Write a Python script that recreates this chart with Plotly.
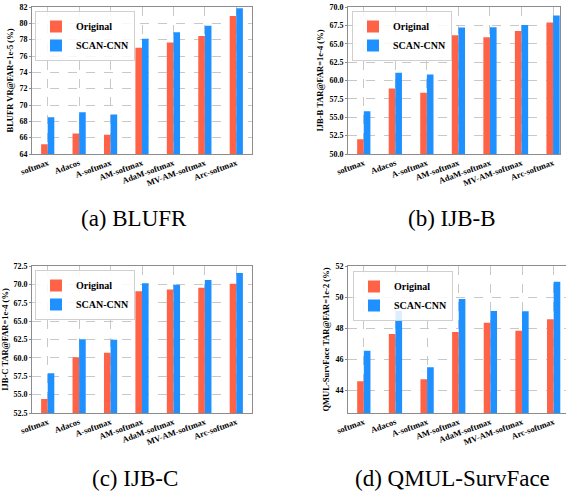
import plotly.graph_objects as go

categories = ["softmax", "Adacos", "A-softmax", "AM-softmax", "AdaM-softmax", "MV-AM-softmax", "Arc-softmax"]

blufr_original = [65.2, 66.5, 66.35, 77.0, 77.65, 78.45, 80.9]
blufr_scan = [68.5, 69.1, 68.85, 78.1, 78.9, 79.7, 81.85]

ijbb_original = [52.0, 58.9, 58.35, 66.15, 65.9, 66.75, 67.9]
ijbb_scan = [55.8, 61.05, 60.8, 67.2, 67.25, 67.55, 68.85]

ijbc_original = [54.4, 60.1, 60.7, 69.05, 69.3, 69.55, 70.1]
ijbc_scan = [57.9, 62.55, 62.45, 70.15, 69.95, 70.6, 71.55]

qmul_original = [44.58, 47.63, 44.71, 47.76, 48.34, 47.83, 48.58]
qmul_scan = [46.54, 49.1, 45.48, 49.87, 49.1, 49.08, 50.99]

titles = ["BLUFR VR@FAR=1e-5 (%)", "IJB-B TAR@FAR=1e-4 (%)",
          "IJB-C TAR@FAR=1e-4 (%)", "QMUL-SurvFace TAR@FAR=1e-2 (%)"]
captions = ["(a) BLUFR", "(b) IJB-B", "(c) IJB-C", "(d) QMUL-SurvFace"]
series = [(blufr_original, blufr_scan), (ijbb_original, ijbb_scan),
          (ijbc_original, ijbc_scan), (qmul_original, qmul_scan)]

W, H = 566, 492
FONT = "Liberation Serif"
RED = "#FF6347"
BLUE = "#1E90FF"

# pixel layout: (left, right, top, bottom)
boxes = [(32, 252, 7, 154), (348, 560, 7, 154), (32, 252, 266, 413), (348, 566, 266, 413)]
yranges = [[64, 82], [50, 70], [52.5, 72.5], [42.54, 52]]
ydtick = [2, 2.5, 2.5, 2]
yfmt = ["d", ".1f", ".1f", "d"]
xranges = [[-0.5, 6.5], [-0.5, 6.22], [-0.5, 6.5], [-0.5, 6.39]]
legpos = [(35, 11), (352, 11), (35, 270), (353, 271)]
capos = [(134, 219), (452, 219), (135, 478), (452, 478)]

fig = go.Figure()
layout = dict(width=W, height=H, margin=dict(l=0, r=0, t=0, b=0),
              paper_bgcolor="white", plot_bgcolor="white",
              barmode="group", bargap=0.58, bargroupgap=0.0,
              font=dict(family=FONT, color="black"))
annotations = []
for i in range(4):
    n = "" if i == 0 else str(i + 1)
    leg = "legend" if i == 0 else "legend" + str(i + 1)
    orig, scan = series[i]
    fig.add_trace(go.Bar(x=categories, y=orig, name="Original", marker=dict(color=RED, line=dict(width=0)),
                         xaxis="x" + n, yaxis="y" + n, legend=leg, offsetgroup="o"))
    fig.add_trace(go.Bar(x=categories, y=scan, name="SCAN-CNN", marker=dict(color=BLUE, line=dict(width=0)),
                         xaxis="x" + n, yaxis="y" + n, legend=leg, offsetgroup="s"))
    l, r, t, b = boxes[i]
    layout["xaxis" + n] = dict(
        domain=[l / W, min(r / W, 1.0)], anchor="y" + n, range=xranges[i], automargin=False,
        showline=True, linecolor="#8c8c8c", linewidth=1, mirror=True,
        showgrid=True, gridcolor="#c8c8c8", griddash="dash", gridwidth=0.8,
        tickangle=-20, tickfont=dict(family=FONT, size=8.5, weight="bold"),
        ticks="", zeroline=False)
    layout["yaxis" + n] = dict(
        domain=[1 - b / H, 1 - t / H], anchor="x" + n, range=yranges[i], automargin=False,
        dtick=ydtick[i], tick0=0, tickformat=yfmt[i],
        showline=True, linecolor="#8c8c8c", linewidth=1, mirror=(i != 3),
        showgrid=True, gridcolor="#c8c8c8", griddash="dash", gridwidth=0.8,
        tickfont=dict(family=FONT, size=8, weight="bold"),
        ticks="outside", ticklen=2, tickcolor="#8c8c8c",
        title=dict(text=titles[i], font=dict(family=FONT, size=8.5, weight="bold"), standoff=4),
        zeroline=False)
    lx, ly = legpos[i]
    layout[leg] = dict(x=lx / W, y=1 - ly / H, xanchor="left", yanchor="top",
                       bgcolor="rgba(255,255,255,0.85)", bordercolor="#d0d0d0", borderwidth=1,
                       font=dict(family=FONT, size=10, weight="bold"),
                       tracegroupgap=0, itemwidth=30)
    cx, cy = capos[i]
    annotations.append(dict(text=captions[i], x=cx / W, y=1 - cy / H, xref="paper", yref="paper",
                            showarrow=False, xanchor="center", yanchor="middle",
                            font=dict(family=FONT, size=23, color="black")))
layout["annotations"] = annotations
fig.update_layout(**layout)
fig.write_html("out.html", config={"displayModeBar": False},
               post_script="document.body.style.margin='0';document.body.style.overflow='hidden';")
